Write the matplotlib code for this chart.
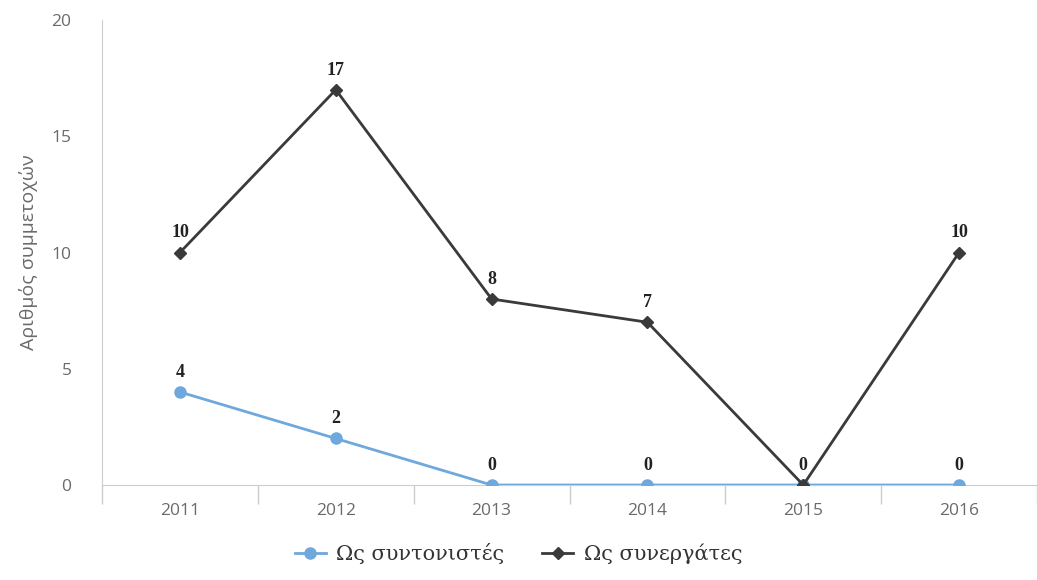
import numpy as np
import matplotlib.pyplot as plt

# Data
years = ['2011', '2012', '2013', '2014', '2015', '2016']
coordinators = [4, 2, 0, 0, 0, 0]     # Ως συντονιστές
partners = [10, 17, 8, 7, 0, 10]      # Ως συνεργάτες

plt.rcParams['font.family'] = ['Open Sans', 'DejaVu Sans']
serif = ['Liberation Serif', 'DejaVu Serif']

fig = plt.figure(figsize=(10.37, 5.8), dpi=100)
ax = fig.add_axes([0.0984, 0.1638, 0.9016, 0.8017])

x = np.arange(len(years))
blue = '#6fa8dc'
dark = '#3a3a3a'

ax.plot(x, coordinators, color=blue, lw=2, marker='o', ms=8,
        label='Ως συντονιστές', zorder=3)
ax.plot(x, partners, color=dark, lw=2, marker='D', ms=6,
        label='Ως συνεργάτες', zorder=4)

# data labels above each point (the 0 of 2015 is shown once)
for xi, v in zip(x, coordinators):
    ax.annotate(str(v), (xi, v), xytext=(0, 8), textcoords='offset points',
                ha='center', va='bottom', fontsize=13, fontweight='bold',
                color='#222222', family=serif)
for xi, v in zip(x, partners):
    if v == 0:
        continue
    ax.annotate(str(v), (xi, v), xytext=(0, 8), textcoords='offset points',
                ha='center', va='bottom', fontsize=13, fontweight='bold',
                color='#222222', family=serif)

ax.set_xlim(-0.5, len(years) - 0.5)
ax.set_ylim(0, 20)
ax.set_yticks([0, 5, 10, 15, 20])
ax.set_xticks(x)
ax.set_xticklabels(years)
ax.set_xticks(np.arange(-0.5, len(years)), minor=True)

ax.tick_params(axis='x', which='major', length=0, pad=13, labelsize=12.5,
               labelcolor='#6a6a6a')
ax.tick_params(axis='x', which='minor', length=14, color='#cccccc', width=1)
ax.tick_params(axis='y', length=0, pad=22, labelsize=12.5, labelcolor='#6a6a6a')

for side in ['top', 'right']:
    ax.spines[side].set_visible(False)
ax.spines['left'].set_color('#cccccc')
ax.spines['bottom'].set_color('#cccccc')

ax.set_ylabel('Αριθμός συμμετοχών', fontsize=14, color='#6a6a6a', labelpad=10)

fig.legend(loc='lower center', bbox_to_anchor=(0.5, -0.005), ncol=2,
           frameon=False,
           prop={'family': ['DejaVu Serif'], 'size': 15},
           handlelength=1.5, handletextpad=0.5, columnspacing=1.8,
           labelcolor='#333333')

fig.savefig('out.png', dpi=100)
